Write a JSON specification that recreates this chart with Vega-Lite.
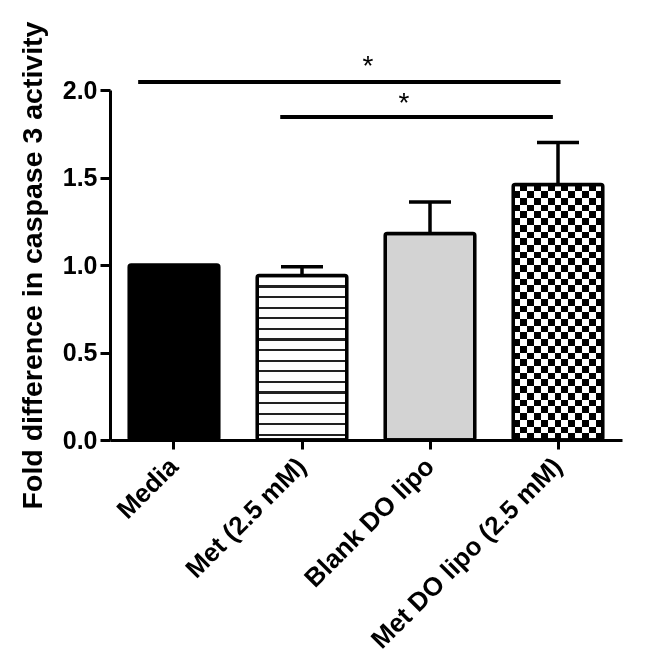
{
  "$schema": "https://vega.github.io/schema/vega-lite/v6.json",
  "width": 512,
  "height": 350,
  "autosize": {"type": "none"},
  "padding": {"left": 110, "top": 90, "right": 28, "bottom": 230},
  "background": "white",
  "config": {
    "font": "Liberation Sans",
    "view": {"stroke": null},
    "axis": {"grid": false, "domainColor": "#000", "domainWidth": 3, "tickColor": "#000", "tickWidth": 3, "labelColor": "#000", "labelFontWeight": "bold", "titleColor": "#000", "titleFontWeight": "bold"}
  },
  "datasets": {
    "bars": [
      {"group": "Media", "mean": 1.0, "upper": 1.0},
      {"group": "Met (2.5 mM)", "mean": 0.94, "upper": 0.99},
      {"group": "Blank DO lipo", "mean": 1.18, "upper": 1.36},
      {"group": "Met DO lipo (2.5 mM)", "mean": 1.46, "upper": 1.70}
    ],
    "sig": [
      {"x1": -0.28, "x2": 3.02, "y": 2.046},
      {"x1": 0.83, "x2": 2.96, "y": 1.846}
    ],
    "stars": [
      {"x": 1.516, "y": 2.085, "label": "*"},
      {"x": 1.797, "y": 1.873, "label": "*"}
    ]
  },
  "layer": [
    {
      "data": {"name": "bars"},
      "encoding": {
        "x": {"field": "group", "type": "nominal",
          "scale": {"domain": ["Media", "Met (2.5 mM)", "Blank DO lipo", "Met DO lipo (2.5 mM)"], "paddingInner": 0.3, "paddingOuter": 0.15},
          "axis": {"title": null, "labelAngle": -45, "labelAlign": "right", "labelBaseline": "middle", "labelFontSize": 26, "labelLimit": 0, "tickSize": 9, "labelPadding": 13}},
        "y": {"field": "mean", "type": "quantitative", "title": "Fold difference in caspase 3 activity",
          "scale": {"domain": [0, 2], "nice": false},
          "axis": {"values": [0, 0.5, 1, 1.5, 2], "format": ".1f", "labelFontSize": 25, "titleFontSize": 28.5, "tickSize": 10, "labelPadding": 3, "titlePadding": 15}}
      },
      "layer": [
        {"transform": [{"filter": "datum.upper > datum.mean"}], "mark": {"type": "rule", "color": "#000", "strokeWidth": 3.5}, "encoding": {"y2": {"field": "upper"}}},
        {"transform": [{"filter": "datum.upper > datum.mean"}], "mark": {"type": "tick", "color": "#000", "size": 42, "thickness": 3.5, "opacity": 1}, "encoding": {"y": {"field": "upper", "type": "quantitative", "title": "Fold difference in caspase 3 activity"}}},
        {"transform": [{"filter": "datum.group === 'Media'"}], "mark": {"type": "bar", "fill": "#000", "strokeWidth": 0}},
        {"transform": [{"filter": "datum.group === 'Blank DO lipo'"}], "mark": {"type": "bar", "fill": "#d3d3d3", "strokeWidth": 0}},
        {"transform": [{"filter": "datum.group === 'Met (2.5 mM)'"}], "mark": {"type": "bar", "strokeWidth": 0, "fill": {"gradient": "linear", "x1": 0, "y1": 0, "x2": 0, "y2": 1, "stops": [
          {"offset": 0, "color": "#fff"},
          {"offset": 0.0602, "color": "#fff"}, {"offset": 0.0602, "color": "#222"}, {"offset": 0.0732, "color": "#222"}, {"offset": 0.0732, "color": "#fff"},
          {"offset": 0.1246, "color": "#fff"}, {"offset": 0.1246, "color": "#222"}, {"offset": 0.1376, "color": "#222"}, {"offset": 0.1376, "color": "#fff"},
          {"offset": 0.1891, "color": "#fff"}, {"offset": 0.1891, "color": "#222"}, {"offset": 0.2021, "color": "#222"}, {"offset": 0.2021, "color": "#fff"},
          {"offset": 0.2535, "color": "#fff"}, {"offset": 0.2535, "color": "#222"}, {"offset": 0.2665, "color": "#222"}, {"offset": 0.2665, "color": "#fff"},
          {"offset": 0.3180, "color": "#fff"}, {"offset": 0.3180, "color": "#222"}, {"offset": 0.3310, "color": "#222"}, {"offset": 0.3310, "color": "#fff"},
          {"offset": 0.3825, "color": "#fff"}, {"offset": 0.3825, "color": "#222"}, {"offset": 0.3955, "color": "#222"}, {"offset": 0.3955, "color": "#fff"},
          {"offset": 0.4469, "color": "#fff"}, {"offset": 0.4469, "color": "#222"}, {"offset": 0.4599, "color": "#222"}, {"offset": 0.4599, "color": "#fff"},
          {"offset": 0.5114, "color": "#fff"}, {"offset": 0.5114, "color": "#222"}, {"offset": 0.5244, "color": "#222"}, {"offset": 0.5244, "color": "#fff"},
          {"offset": 0.5759, "color": "#fff"}, {"offset": 0.5759, "color": "#222"}, {"offset": 0.5889, "color": "#222"}, {"offset": 0.5889, "color": "#fff"},
          {"offset": 0.6403, "color": "#fff"}, {"offset": 0.6403, "color": "#222"}, {"offset": 0.6533, "color": "#222"}, {"offset": 0.6533, "color": "#fff"},
          {"offset": 0.7048, "color": "#fff"}, {"offset": 0.7048, "color": "#222"}, {"offset": 0.7178, "color": "#222"}, {"offset": 0.7178, "color": "#fff"},
          {"offset": 0.7693, "color": "#fff"}, {"offset": 0.7693, "color": "#222"}, {"offset": 0.7823, "color": "#222"}, {"offset": 0.7823, "color": "#fff"},
          {"offset": 0.8337, "color": "#fff"}, {"offset": 0.8337, "color": "#222"}, {"offset": 0.8467, "color": "#222"}, {"offset": 0.8467, "color": "#fff"},
          {"offset": 0.8982, "color": "#fff"}, {"offset": 0.8982, "color": "#222"}, {"offset": 0.9112, "color": "#222"}, {"offset": 0.9112, "color": "#fff"},
          {"offset": 0.9626, "color": "#fff"}, {"offset": 0.9626, "color": "#222"}, {"offset": 0.9756, "color": "#222"}, {"offset": 0.9756, "color": "#fff"},
          {"offset": 1, "color": "#fff"}
        ]}}},
        {"transform": [{"filter": "datum.group === 'Met DO lipo (2.5 mM)'"}], "mark": {"type": "bar", "strokeWidth": 0, "fill": {"gradient": "linear", "x1": 0, "y1": 0, "x2": 1, "y2": 0, "stops": [
          {"offset": 0, "color": "#fff"}, {"offset": 0.07692, "color": "#fff"}, {"offset": 0.07692, "color": "#000"}, {"offset": 0.15385, "color": "#000"}, {"offset": 0.15385, "color": "#fff"},
          {"offset": 0.23077, "color": "#fff"}, {"offset": 0.23077, "color": "#000"}, {"offset": 0.30769, "color": "#000"}, {"offset": 0.30769, "color": "#fff"},
          {"offset": 0.38462, "color": "#fff"}, {"offset": 0.38462, "color": "#000"}, {"offset": 0.46154, "color": "#000"}, {"offset": 0.46154, "color": "#fff"},
          {"offset": 0.53846, "color": "#fff"}, {"offset": 0.53846, "color": "#000"}, {"offset": 0.61538, "color": "#000"}, {"offset": 0.61538, "color": "#fff"},
          {"offset": 0.69231, "color": "#fff"}, {"offset": 0.69231, "color": "#000"}, {"offset": 0.76923, "color": "#000"}, {"offset": 0.76923, "color": "#fff"},
          {"offset": 0.84615, "color": "#fff"}, {"offset": 0.84615, "color": "#000"}, {"offset": 0.92308, "color": "#000"}, {"offset": 0.92308, "color": "#fff"},
          {"offset": 1, "color": "#fff"}
        ]}}},
        {"transform": [{"filter": "datum.group === 'Met DO lipo (2.5 mM)'"}], "mark": {"type": "bar", "strokeWidth": 0, "blend": "difference", "fill": {"gradient": "linear", "x1": 0, "y1": 0, "x2": 0, "y2": 1, "stops": [
          {"offset": 0, "color": "#000"}, {"offset": 0.02632, "color": "#000"}, {"offset": 0.02632, "color": "#fff"}, {"offset": 0.05263, "color": "#fff"}, {"offset": 0.05263, "color": "#000"},
          {"offset": 0.07895, "color": "#000"}, {"offset": 0.07895, "color": "#fff"}, {"offset": 0.10526, "color": "#fff"}, {"offset": 0.10526, "color": "#000"},
          {"offset": 0.13158, "color": "#000"}, {"offset": 0.13158, "color": "#fff"}, {"offset": 0.15789, "color": "#fff"}, {"offset": 0.15789, "color": "#000"},
          {"offset": 0.18421, "color": "#000"}, {"offset": 0.18421, "color": "#fff"}, {"offset": 0.21053, "color": "#fff"}, {"offset": 0.21053, "color": "#000"},
          {"offset": 0.23684, "color": "#000"}, {"offset": 0.23684, "color": "#fff"}, {"offset": 0.26316, "color": "#fff"}, {"offset": 0.26316, "color": "#000"},
          {"offset": 0.28947, "color": "#000"}, {"offset": 0.28947, "color": "#fff"}, {"offset": 0.31579, "color": "#fff"}, {"offset": 0.31579, "color": "#000"},
          {"offset": 0.34211, "color": "#000"}, {"offset": 0.34211, "color": "#fff"}, {"offset": 0.36842, "color": "#fff"}, {"offset": 0.36842, "color": "#000"},
          {"offset": 0.39474, "color": "#000"}, {"offset": 0.39474, "color": "#fff"}, {"offset": 0.42105, "color": "#fff"}, {"offset": 0.42105, "color": "#000"},
          {"offset": 0.44737, "color": "#000"}, {"offset": 0.44737, "color": "#fff"}, {"offset": 0.47368, "color": "#fff"}, {"offset": 0.47368, "color": "#000"},
          {"offset": 0.5, "color": "#000"}, {"offset": 0.5, "color": "#fff"}, {"offset": 0.52632, "color": "#fff"}, {"offset": 0.52632, "color": "#000"},
          {"offset": 0.55263, "color": "#000"}, {"offset": 0.55263, "color": "#fff"}, {"offset": 0.57895, "color": "#fff"}, {"offset": 0.57895, "color": "#000"},
          {"offset": 0.60526, "color": "#000"}, {"offset": 0.60526, "color": "#fff"}, {"offset": 0.63158, "color": "#fff"}, {"offset": 0.63158, "color": "#000"},
          {"offset": 0.65789, "color": "#000"}, {"offset": 0.65789, "color": "#fff"}, {"offset": 0.68421, "color": "#fff"}, {"offset": 0.68421, "color": "#000"},
          {"offset": 0.71053, "color": "#000"}, {"offset": 0.71053, "color": "#fff"}, {"offset": 0.73684, "color": "#fff"}, {"offset": 0.73684, "color": "#000"},
          {"offset": 0.76316, "color": "#000"}, {"offset": 0.76316, "color": "#fff"}, {"offset": 0.78947, "color": "#fff"}, {"offset": 0.78947, "color": "#000"},
          {"offset": 0.81579, "color": "#000"}, {"offset": 0.81579, "color": "#fff"}, {"offset": 0.84211, "color": "#fff"}, {"offset": 0.84211, "color": "#000"},
          {"offset": 0.86842, "color": "#000"}, {"offset": 0.86842, "color": "#fff"}, {"offset": 0.89474, "color": "#fff"}, {"offset": 0.89474, "color": "#000"},
          {"offset": 0.92105, "color": "#000"}, {"offset": 0.92105, "color": "#fff"}, {"offset": 0.94737, "color": "#fff"}, {"offset": 0.94737, "color": "#000"},
          {"offset": 0.97368, "color": "#000"}, {"offset": 0.97368, "color": "#fff"}, {"offset": 1, "color": "#fff"}
        ]}}},
        {"mark": {"type": "bar", "fill": "#fff", "fillOpacity": 0, "stroke": "#000", "strokeWidth": 3.5, "cornerRadius": 2}}
      ]
    },
    {
      "layer": [
        {
          "data": {"name": "sig"},
          "mark": {"type": "rule", "color": "#000", "strokeWidth": 4},
          "encoding": {
            "x": {"field": "x1", "type": "quantitative", "scale": {"domain": [-0.5, 3.5], "nice": false, "zero": false}, "axis": null},
            "x2": {"field": "x2"},
            "y": {"field": "y", "type": "quantitative", "scale": {"domain": [0, 2], "nice": false}, "title": "Fold difference in caspase 3 activity"}
          }
        },
        {
          "data": {"name": "stars"},
          "mark": {"type": "text", "color": "#000", "fontSize": 28, "baseline": "alphabetic", "align": "center"},
          "encoding": {
            "x": {"field": "x", "type": "quantitative", "scale": {"domain": [-0.5, 3.5], "nice": false, "zero": false}, "axis": null},
            "y": {"field": "y", "type": "quantitative", "scale": {"domain": [0, 2], "nice": false}, "title": "Fold difference in caspase 3 activity"},
            "text": {"field": "label"}
          }
        }
      ]
    }
  ],
  "resolve": {"scale": {"x": "independent"}}
}
